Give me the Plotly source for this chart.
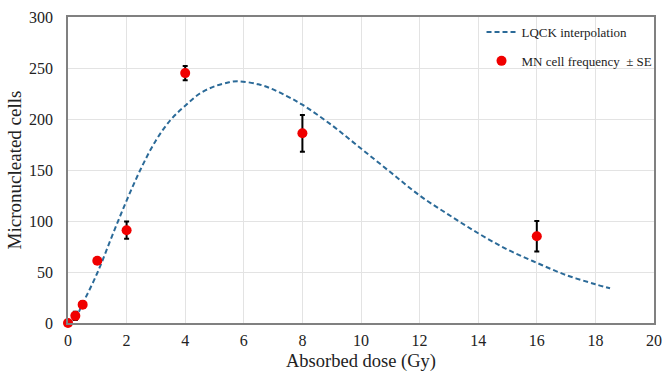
import plotly.graph_objects as go

# Measured data (MN cell frequency ± SE)
dose = [0, 0.25, 0.5, 1, 2, 4, 8, 16]
mn_cells = [0, 7, 18, 61, 91, 245, 186, 85]
mn_se = [0, 4, 3, 0, 8.5, 7, 18, 15]

# LQCK interpolation curve
curve_dose = [0, 0.25, 0.5, 1, 1.5, 2, 2.5, 3, 3.5, 4, 4.5, 5, 5.5, 5.8, 6.5, 7, 7.5, 8, 9, 10, 11, 12, 13, 14, 15, 16, 17, 18, 18.5]
curve_cells = [0, 5, 19, 49, 85, 120, 152, 179, 199, 213, 225, 232, 236, 237, 234, 229, 222, 214, 194, 171, 148, 125, 106, 88, 72, 59, 47, 38, 34]

x_ticks = [0, 2, 4, 6, 8, 10, 12, 14, 16, 18, 20]
y_ticks = [0, 50, 100, 150, 200, 250, 300]

font_family = "Liberation Serif"

fig = go.Figure()
fig.add_trace(go.Scatter(
    x=curve_dose, y=curve_cells, mode="lines", name="LQCK interpolation",
    line=dict(color="#2B6A98", width=2, dash="5px,3px", shape="spline"),
    legendgroup="a",
))
fig.add_trace(go.Scatter(
    x=dose, y=mn_cells, mode="markers", name="MN cell frequency  ± SE",
    marker=dict(color="#F00000", size=10),
    error_y=dict(type="data", array=mn_se, visible=True, color="black", thickness=2, width=2.5),
    legendgroup="b", cliponaxis=False,
))

fig.update_layout(
    width=670, height=379,
    margin=dict(l=68, r=12, t=17, b=56),
    paper_bgcolor="white", plot_bgcolor="white",
    font=dict(family=font_family, color="#222", size=15),
    showlegend=True,
    legend=dict(
        x=1.006, y=1.0, xanchor="right", yanchor="top",
        bgcolor="rgba(0,0,0,0)", font=dict(size=13, family=font_family, color="#222"),
        tracegroupgap=9, traceorder="grouped",
    ),
    xaxis=dict(
        range=[0, 20], tickvals=x_ticks, showgrid=True, gridcolor="#E3E3E3",
        showline=True, linecolor="#808080", linewidth=1.5, mirror=True,
        ticks="", zeroline=False, automargin=False, ticklabeloverflow="allow",
        ticklabelstandoff=2,
        title=dict(text="Absorbed dose (Gy)", font=dict(size=18.5), standoff=6),
        tickfont=dict(size=16),
    ),
    yaxis=dict(
        range=[0, 300], tickvals=y_ticks, showgrid=True, gridcolor="#E3E3E3",
        showline=True, linecolor="#808080", linewidth=1.5, mirror=True,
        ticks="", zeroline=False, automargin=False, ticklabelstandoff=10,
        title=dict(text="Micronucleated cells", font=dict(size=19), standoff=2),
        tickfont=dict(size=16),
    ),
)

fig.write_html(
    "out.html",
    config={"displayModeBar": False},
    post_script="document.body.style.margin='0';document.body.style.overflow='hidden';",
)
